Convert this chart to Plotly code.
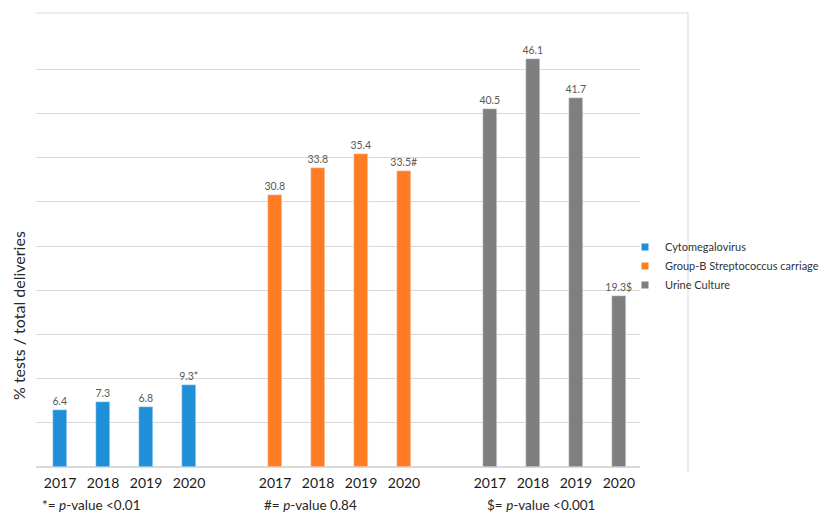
import plotly.graph_objects as go

years = ["2017", "2018", "2019", "2020"]
series_names = ["Cytomegalovirus", "Group-B Streptococcus carriage", "Urine Culture"]
cmv = [6.4, 7.3, 6.8, 9.3]
gbs = [30.8, 33.8, 35.4, 33.5]
urine = [40.5, 46.1, 41.7, 19.3]
markers = ["*", "#", "$"]
notes = ["*= <i>p</i>-value &lt;0.01", "#= <i>p</i>-value 0.84", "$= <i>p</i>-value &lt;0.001"]
colors = ["#1F8FD8", "#FF7C22", "#7F7F7F"]

FONT = "Lato, 'Open Sans', sans-serif"

# page body has an 8px margin; shift the figure so screen positions match
OFF = 8
L, T, B = 36, 25, 467          # plot area in screen px
R = 640
W, H = 830 - OFF, 513 - OFF
PW, PH = R - L, B - T

def px(x):
    return (x - L) / PW

def py(y):
    return (B - y) / PH

fig = go.Figure()
all_vals = [cmv, gbs, urine]
tickvals, ticktext = [], []
for g, (name, vals, mk, col) in enumerate(zip(series_names, all_vals, markers, colors)):
    xs = [g * 5 + i for i in range(len(vals))]
    labels = [f"{v}" for v in vals]
    labels[-1] = labels[-1] + mk
    fig.add_trace(go.Bar(
        x=xs, y=vals, name=name, marker_color=col, width=0.31, showlegend=False,
        text=labels, textposition="outside", cliponaxis=False, constraintext="none",
        textfont=dict(size=10.5, color="#595959", family=FONT),
    ))
    # legend entry with a small square swatch
    fig.add_trace(go.Scatter(
        x=[None], y=[None], mode="markers", name=name,
        marker=dict(symbol="square", size=7, color=col),
    ))
    tickvals += xs
    ticktext += years

fig.update_layout(
    width=W, height=H,
    margin=dict(l=L - OFF, r=W - (R - OFF), t=T - OFF, b=H - (B - OFF), autoexpand=False),
    paper_bgcolor="white", plot_bgcolor="white",
    font=dict(family=FONT, color="#262626"),
    showlegend=True,
    legend=dict(x=px(625), y=py(266), xanchor="left", yanchor="middle",
                font=dict(size=11, color="#333333"), bgcolor="rgba(0,0,0,0)",
                itemwidth=30, tracegroupgap=0),
    xaxis=dict(range=[-0.56, 13.49], tickvals=tickvals, ticktext=ticktext,
               tickfont=dict(size=14, color="#1A1A1A"), showgrid=False,
               zeroline=False, showline=False, ticks="", ticklabelstandoff=6),
    yaxis=dict(range=[0, 50], dtick=5, showticklabels=False, showgrid=True,
               gridcolor="#D9D9D9", zeroline=True, zerolinecolor="#D9D9D9"),
    bargap=0,
)

fig.add_annotation(text="% tests / total deliveries", xref="paper", yref="paper",
                   x=px(18), y=py(316), textangle=-90,
                   xanchor="center", yanchor="middle", showarrow=False,
                   font=dict(size=16, color="#262626", family=FONT))

for xx, note in zip([40, 262, 485], notes):
    fig.add_annotation(text=note, xref="paper", yref="paper",
                       x=px(xx), y=py(505), xanchor="left", yanchor="middle",
                       showarrow=False, font=dict(size=13.5, color="#262626", family=FONT))

# chart frame (top and right borders)
fig.add_shape(type="line", xref="paper", yref="paper", x0=0, x1=px(688),
              y0=py(13), y1=py(13), line=dict(color="#D9D9D9", width=1))
fig.add_shape(type="line", xref="paper", yref="paper", x0=px(688), x1=px(688),
              y0=py(13), y1=py(472), line=dict(color="#D9D9D9", width=1))

fig.write_html("out.html")
